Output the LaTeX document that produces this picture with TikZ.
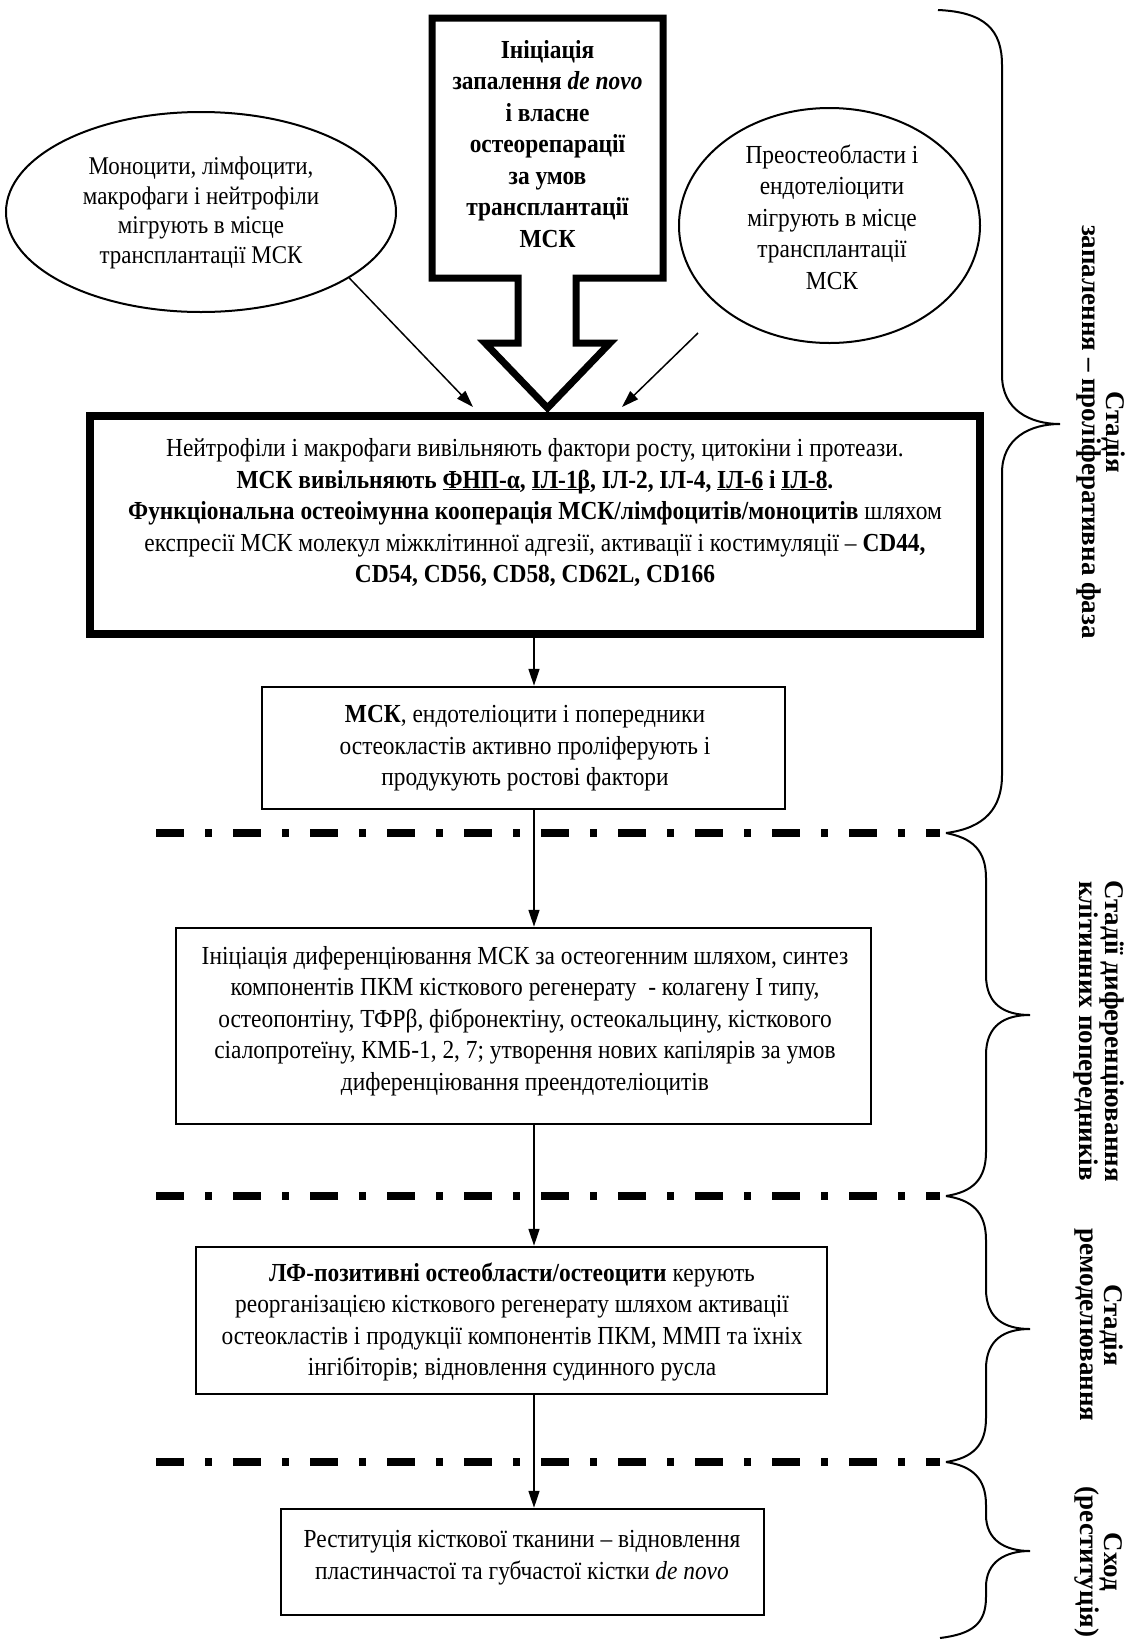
\documentclass[tikz,border=0pt]{standalone}
\usepackage{fontspec}
\setmainfont{Liberation Serif}[FakeStretch=0.9]
\newfontfamily\lblfont{Liberation Serif}
\usetikzlibrary{arrows.meta,shapes.geometric}
\newcommand{\myul}[1]{\underline{\smash{#1}}}
\begin{document}
\begin{tikzpicture}[x=1pt,y=-1pt,
  arr/.style={line width=1.5pt,-{Triangle[length=17pt,width=11pt]}},
  box/.style={draw,line width=2.5pt,inner sep=0pt},
  txt/.style={align=center,font=\fontsize{26}{31.5}\selectfont,inner sep=0pt},
  ell/.style={draw,ellipse,line width=2pt,inner sep=0pt},
  sep/.style={line width=8pt,dash pattern=on 28pt off 21pt on 7pt off 21pt},
  brace/.style={line width=2pt},
  lbl/.style={rotate=-90,align=center,font=\lblfont\bfseries\fontsize{27}{24}\selectfont,inner sep=0pt}]
\useasboundingbox (0,0) rectangle (1131,1642);
\fill[white] (0,0) rectangle (1131,1642);

% block arrow
\draw[line width=7pt,line join=miter] (432,18) -- (663,18) -- (663,278) -- (576,278) -- (576,343) -- (610,343) -- (547.5,408) -- (485,343) -- (518,343) -- (518,278) -- (432,278) -- cycle;
\node[txt,font=\bfseries\fontsize{26}{31.5}\selectfont] (init) at (547.5,144) {Ініціація\\запалення \textit{de novo}\\і власне\\остеорепарації\\за умов\\трансплантації\\МСК};

% ellipses
\node[ell,minimum width=390pt,minimum height=200pt] (ellL) at (201,212) {};
\node[txt,font=\fontsize{25.5}{29.5}\selectfont] (ellLt) at (201,213) {Моноцити, лімфоцити,\\макрофаги і нейтрофіли\\мігрують в місце\\трансплантації МСК};
\node[ell,minimum width=301pt,minimum height=235pt] (ellR) at (829.5,225.5) {};
\node[txt] (ellRt) at (832,217) {Преостеобласти і\\ендотеліоцити\\мігрують в місце\\трансплантації\\МСК};

% thick box
\node[draw,line width=8pt,minimum width=890pt,minimum height=218pt,inner sep=0pt] (b1) at (535,525) {};
\node[txt] (b1t) at (535,512.5) {Нейтрофіли і макрофаги вивільняють фактори росту, цитокіни і протеази.\\
\textbf{МСК вивільняють \myul{ФНП-α}, \myul{ІЛ-1β}, ІЛ-2, ІЛ-4, \myul{ІЛ-6} і \myul{ІЛ-8}.}\\
\textbf{Функціональна остеоімунна кооперація МСК/лімфоцитів/моноцитів} шляхом\\
експресії МСК молекул міжклітинної адгезії, активації і костимуляції – \textbf{CD44,}\\
\textbf{CD54, CD56, CD58, CD62L, CD166}};

% other boxes
\node[box,minimum width=523pt,minimum height=122pt] (b2) at (523.5,748) {};
\node[txt] (b2t) at (525,748.5) {\textbf{МСК}, ендотеліоцити і попередники\\остеокластів активно проліферують і\\продукують ростові фактори};

\node[box,minimum width=695pt,minimum height=196pt] (b3) at (523.5,1026) {};
\node[txt] (b3t) at (525,1021) {Ініціація диференціювання МСК за остеогенним шляхом, синтез\\компонентів ПКМ кісткового регенерату \ - колагену І типу,\\остеопонтіну, ТФРβ, фібронектіну, остеокальцину, кісткового\\сіалопротеїну, КМБ-1, 2, 7; утворення нових капілярів за умов\\диференціювання преендотеліоцитів};

\node[box,minimum width=631pt,minimum height=147pt] (b4) at (511.5,1320.5) {};
\node[txt] (b4t) at (512,1322) {\textbf{ЛФ-позитивні остеобласти/остеоцити} керують\\реорганізацією кісткового регенерату шляхом активації\\остеокластів і продукції компонентів ПКМ, ММП та їхніх\\інгібіторів; відновлення судинного русла};

\node[box,minimum width=483pt,minimum height=106pt] (b5) at (522.5,1562) {};
\node[txt] (b5t) at (522,1557.5) {Реституція кісткової тканини – відновлення\\пластинчастої та губчастої кістки \textit{de novo}};

% separators
\draw[sep] (156,833) -- (940,833);
\draw[sep] (156,1196) -- (940,1196);
\draw[sep] (156,1462) -- (940,1462);

% connectors
\coordinate (ax) at (534,0);
\coordinate (a1e) at (473,407);
\coordinate (a2s) at (698,333);
\coordinate (a2e) at (622,407);
\draw[arr] (ellL.-24) -- (a1e);
\draw[arr] (a2s) -- (a2e);
\draw[arr] (b1.south -| ax) -- (b2.north -| ax);
\draw[arr] (b2.south -| ax) -- (b3.north -| ax);
\draw[arr] (b3.south -| ax) -- (b4.north -| ax);
\draw[arr] (b4.south -| ax) -- (b5.north -| ax);

% braces
\draw[brace] (938,10) .. controls (985,12) and (1002,30) .. (1002,65) -- (1002,375) .. controls (1002,410) and (1030,424) .. (1060,424) .. controls (1030,424) and (1002,438) .. (1002,473) -- (1002,775) .. controls (1002,808) and (985,828) .. (946,833);
\draw[brace] (946,833) .. controls (972,838) and (986,850) .. (986,878) -- (986,975) .. controls (986,1005) and (1005,1015) .. (1030,1015) .. controls (1005,1015) and (986,1025) .. (986,1055) -- (986,1152) .. controls (986,1180) and (972,1192) .. (946,1196);
\draw[brace] (946,1196) .. controls (972,1200) and (986,1212) .. (986,1240) -- (986,1289) .. controls (986,1319) and (1005,1329) .. (1030,1329) .. controls (1005,1329) and (986,1339) .. (986,1369) -- (986,1418) .. controls (986,1446) and (972,1458) .. (946,1462);
\draw[brace] (946,1462) .. controls (972,1466) and (986,1478) .. (986,1505) -- (986,1515) .. controls (986,1540) and (1005,1551) .. (1030,1551) .. controls (1005,1551) and (986,1562) .. (986,1587) -- (986,1597) .. controls (986,1624) and (972,1634) .. (940,1638);

% stage labels
\node[lbl] (s1) at (1101,432) {Стадія\\запалення – проліферативна фаза};
\node[lbl] (s2) at (1099,1031) {Стадії диференціювання\\клітинних попередників};
\node[lbl] (s3) at (1099,1325) {Стадія\\ремоделювання};
\node[lbl] (s4) at (1099,1562) {Сход\\(реституція)};
\end{tikzpicture}
\end{document}
